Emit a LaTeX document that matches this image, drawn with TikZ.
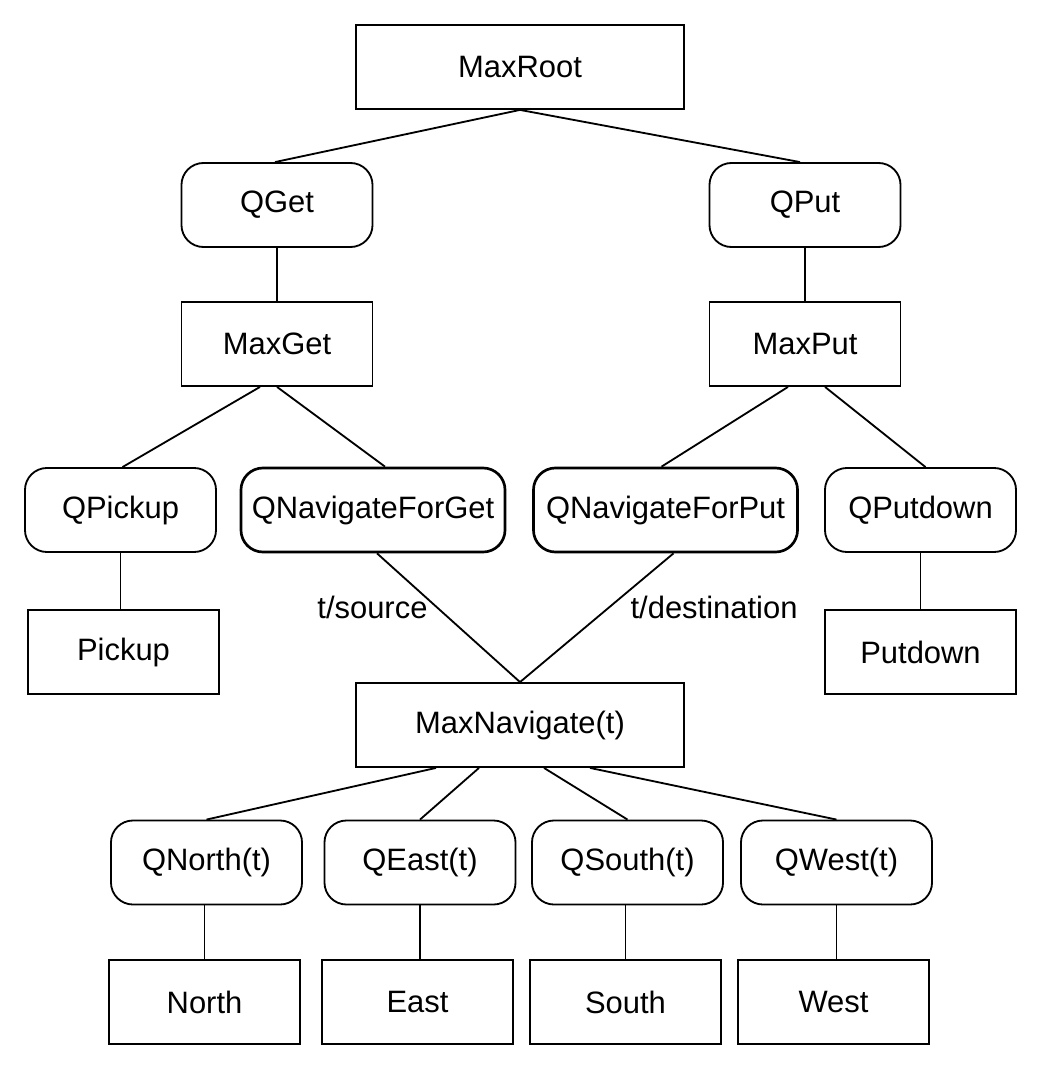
\documentclass[tikz,border=0pt]{standalone}
\usepackage{fontspec}
\setmainfont{Liberation Sans}
\tikzset{every node/.style={font=\fontsize{22}{26}\selectfont},
         maxnode/.style={draw,rectangle,line width=1.3pt,minimum width=4.775cm,minimum height=2.1cm,inner sep=0pt},
         widenode/.style={maxnode,minimum width=8.2cm},
         qnode/.style={maxnode,rounded corners=0.55cm},
         navnode/.style={qnode,line width=1.9pt,minimum width=6.6cm},
         link/.style={draw,line width=1.3pt},
         linklabel/.style={draw=none,fill=none}}

\begin{document}
\begin{tikzpicture}[x=0.025cm,y=-0.025cm]
\useasboundingbox (0,0) rectangle (1040,1069);
% top of the hierarchy
\node[widenode] (maxroot) at (520,67) {MaxRoot};
\node[qnode] (qget) at (277,205) {QGet};
\node[qnode] (qput) at (805,205) {QPut};
\node[maxnode] (maxget) at (277,344) {MaxGet};
\node[maxnode] (maxput) at (805,344) {MaxPut};
% get / put subtasks
\node[qnode] (qpickup) at (120.5,510) {QPickup};
\node[navnode] (qnavget) at (373,510) {QNavigateForGet};
\node[navnode] (qnavput) at (665.5,510) {QNavigateForPut};
\node[qnode] (qputdown) at (920.5,510) {QPutdown};
\node[maxnode] (pickup) at (123.5,652) {Pickup};
\node[maxnode] (putdown) at (920.5,652) {Putdown};
\node[widenode] (maxnav) at (520,725) {MaxNavigate(t)};
% primitive moves
\node[qnode] (qnorth) at (206.5,862.5) {QNorth(t)};
\node[qnode] (qeast) at (420,862.5) {QEast(t)};
\node[qnode] (qsouth) at (627.5,862.5) {QSouth(t)};
\node[qnode] (qwest) at (836.5,862.5) {QWest(t)};
\node[maxnode] (north) at (204.5,1002) {North};
\node[maxnode] (east) at (417.5,1002) {East};
\node[maxnode] (south) at (625.5,1002) {South};
\node[maxnode] (west) at (833.5,1002) {West};

\path[link] (maxroot.south) -- ([xshift=-0.05cm]qget.north);
\path[link] (maxroot.south) -- ([xshift=-0.125cm]qput.north);
\path[link] (qget.south) -- (qget.south |- maxget.north);
\path[link] (qput.south) -- (qput.south |- maxput.north);
\path[link] ([xshift=-0.425cm]maxget.south) -- ([xshift=0.05cm]qpickup.north);
\path[link] (maxget.south) -- ([xshift=0.3cm]qnavget.north);
\path[link] ([xshift=-0.425cm]maxput.south) -- ([xshift=-0.1cm]qnavput.north);
\path[link] ([xshift=0.5cm]maxput.south) -- ([xshift=0.125cm]qputdown.north);
\path[link] (qpickup.south) -- (qpickup.south |- pickup.north);
\path[link] (qputdown.south) -- (qputdown.south |- putdown.north);
\path[link] ([xshift=0.1cm]qnavget.south) -- (maxnav.north)
  node[linklabel,pos=0.42,left=0.1cm] {t/source};
\path[link] ([xshift=0.2cm]qnavput.south) -- (maxnav.north)
  node[linklabel,pos=0.42,right=0.4cm] {t/destination};
\path[link] ([xshift=-2.1cm]maxnav.south) -- (qnorth.north);
\path[link] ([xshift=-1.025cm]maxnav.south) -- (qeast.north);
\path[link] ([xshift=0.6cm]maxnav.south) -- (qsouth.north);
\path[link] ([xshift=1.75cm]maxnav.south) -- (qwest.north);
\path[link] ([xshift=-0.05cm]qnorth.south) -- ([xshift=-0.05cm]qnorth.south |- north.north);
\path[link] (qeast.south) -- (qeast.south |- east.north);
\path[link] ([xshift=-0.05cm]qsouth.south) -- ([xshift=-0.05cm]qsouth.south |- south.north);
\path[link] (qwest.south) -- (qwest.south |- west.north);
\end{tikzpicture}
\end{document}
